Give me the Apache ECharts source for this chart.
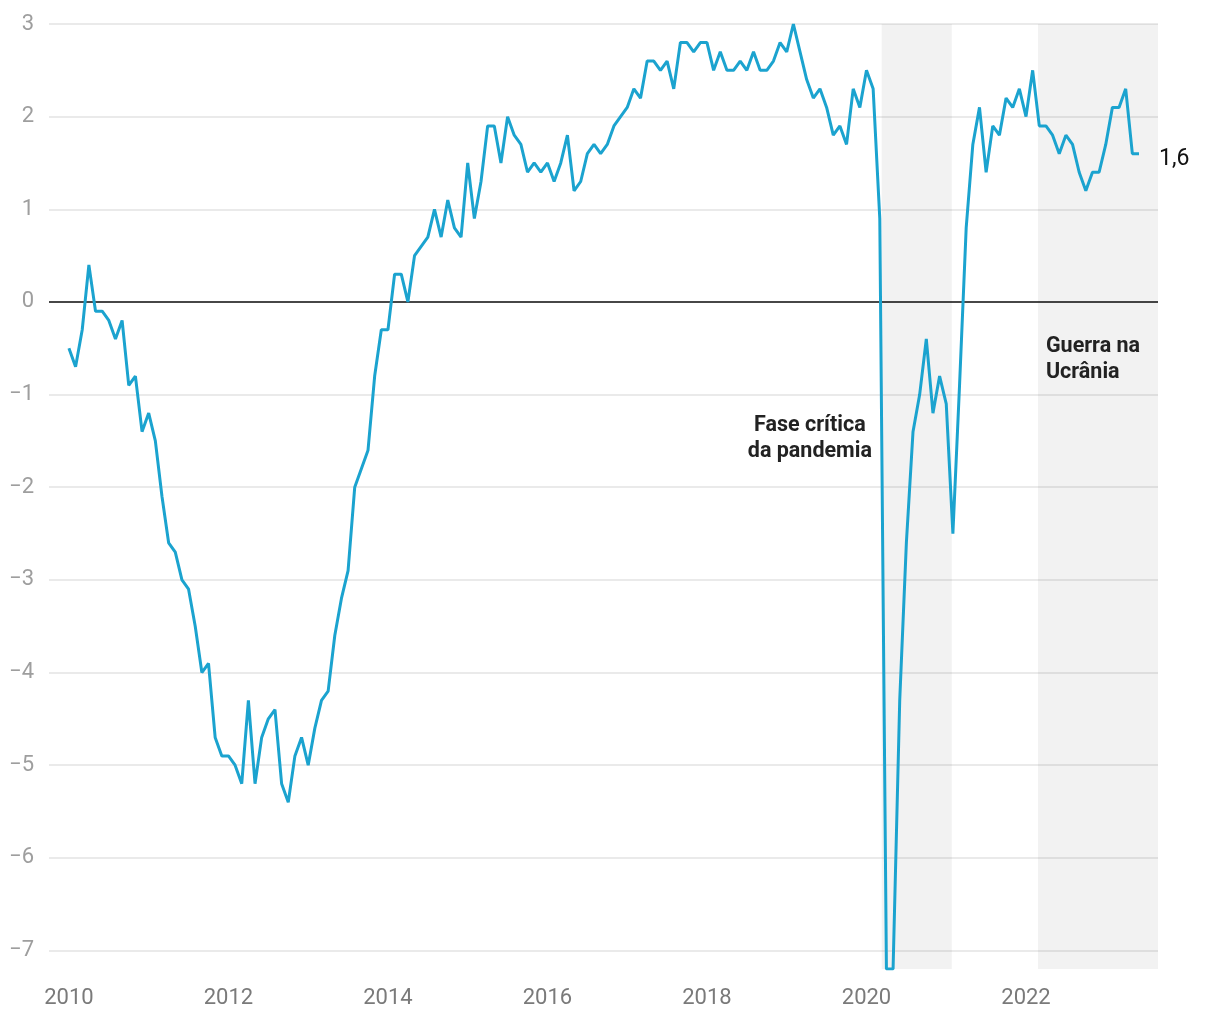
<!DOCTYPE html>
<html>
<head>
<meta charset="utf-8">
<script src="https://cdn.jsdelivr.net/npm/echarts@6/dist/echarts.min.js"></script>
<style>
html,body{margin:0;padding:0;background:#fff;}
#chart{width:1220px;height:1020px;}
</style>
</head>
<body>
<div id="chart"></div>
<script>
// Monthly values, Jan 2010 .. Jun 2023
const startYear = 2010;
const values2010 = [-0.5, -0.7, -0.3, 0.4, -0.1, -0.1, -0.2, -0.4, -0.2, -0.9, -0.8, -1.4];
const values2011 = [-1.2, -1.5, -2.1, -2.6, -2.7, -3.0, -3.1, -3.5, -4.0, -3.9, -4.7, -4.9];
const values2012 = [-4.9, -5.0, -5.2, -4.3, -5.2, -4.7, -4.5, -4.4, -5.2, -5.4, -4.9, -4.7];
const values2013 = [-5.0, -4.6, -4.3, -4.2, -3.6, -3.2, -2.9, -2.0, -1.8, -1.6, -0.8, -0.3];
const values2014 = [-0.3, 0.3, 0.3, 0.0, 0.5, 0.6, 0.7, 1.0, 0.7, 1.1, 0.8, 0.7];
const values2015 = [1.5, 0.9, 1.3, 1.9, 1.9, 1.5, 2.0, 1.8, 1.7, 1.4, 1.5, 1.4];
const values2016 = [1.5, 1.3, 1.5, 1.8, 1.2, 1.3, 1.6, 1.7, 1.6, 1.7, 1.9, 2.0];
const values2017 = [2.1, 2.3, 2.2, 2.6, 2.6, 2.5, 2.6, 2.3, 2.8, 2.8, 2.7, 2.8];
const values2018 = [2.8, 2.5, 2.7, 2.5, 2.5, 2.6, 2.5, 2.7, 2.5, 2.5, 2.6, 2.8];
const values2019 = [2.7, 3.0, 2.7, 2.4, 2.2, 2.3, 2.1, 1.8, 1.9, 1.7, 2.3, 2.1];
const values2020 = [2.5, 2.3, 0.9, -7.2, -7.2, -4.3, -2.6, -1.4, -1.0, -0.4, -1.2, -0.8];
const values2021 = [-1.1, -2.5, -0.9, 0.8, 1.7, 2.1, 1.4, 1.9, 1.8, 2.2, 2.1, 2.3];
const values2022 = [2.0, 2.5, 1.9, 1.9, 1.8, 1.6, 1.8, 1.7, 1.4, 1.2, 1.4, 1.4];
const values2023 = [1.7, 2.1, 2.1, 2.3, 1.6, 1.6];

const xTickYears = [2010, 2012, 2014, 2016, 2018, 2020, 2022];
const yTicks = [-7, -6, -5, -4, -3, -2, -1, 0, 1, 2, 3];

// shaded periods (decimal years)
const pandemicPeriod = [2020.19, 2021.07];
const warPeriod = [2022.15, 2023.655];
const pandemicLabel = 'Fase crítica\nda pandemia';
const warLabel = 'Guerra na\nUcrânia';

const allValues = [].concat(values2010, values2011, values2012, values2013, values2014,
  values2015, values2016, values2017, values2018, values2019, values2020, values2021,
  values2022, values2023);
const seriesData = allValues.map((v, i) => [startYear + i / 12, v]);

const FONT = 'Roboto, "Noto Sans", sans-serif';
const fmtNum = v => String(v).replace('-', '\u2212').replace('.', ',');

const chart = echarts.init(document.getElementById('chart'), null, {renderer: 'canvas'});
chart.setOption({
  animation: false,
  backgroundColor: '#fff',
  textStyle: {fontFamily: FONT},
  grid: {left: 49, right: 62, top: 24, bottom: 51, containLabel: false},
  xAxis: {
    type: 'value',
    min: 2009.75,
    max: 2023.655,
    axisLine: {show: false},
    axisTick: {show: false, customValues: xTickYears},
    splitLine: {show: false},
    axisLabel: {
      customValues: xTickYears,
      color: '#7a7a7a',
      fontSize: 22,
      fontFamily: FONT,
      margin: 18,
      formatter: v => String(v)
    }
  },
  yAxis: {
    type: 'value',
    min: -7.2,
    max: 3,
    axisLine: {show: false},
    axisTick: {show: false, customValues: yTicks},
    splitLine: {show: true, lineStyle: {color: '#e3e3e3', width: 1.5}},
    axisLabel: {
      customValues: yTicks,
      color: '#9e9e9e',
      fontSize: 22,
      fontFamily: FONT,
      margin: 15,
      padding: [3, 0, 0, 0],
      formatter: v => fmtNum(v)
    }
  },
  series: [{
    type: 'line',
    data: seriesData,
    showSymbol: false,
    symbol: 'none',
    lineStyle: {color: '#1ba3cf', width: 3},
    itemStyle: {color: '#1ba3cf'},
    z: 5,
    endLabel: {
      show: true,
      distance: 20,
      offset: [0, 6],
      color: '#111',
      fontSize: 23,
      fontFamily: FONT,
      formatter: p => fmtNum(p.value[1].toFixed(1))
    },
    markArea: {
      silent: true,
      itemStyle: {color: 'rgba(0,0,0,0.05)'},
      data: [
        [{xAxis: pandemicPeriod[0], yAxis: -7.2}, {xAxis: pandemicPeriod[1], yAxis: 3}],
        [{xAxis: warPeriod[0], yAxis: -7.2}, {xAxis: warPeriod[1], yAxis: 3}]
      ]
    },
    markLine: {
      silent: true,
      symbol: ['none', 'none'],
      label: {show: false},
      lineStyle: {color: '#111', width: 1.5, type: 'solid'},
      data: [{yAxis: 0}]
    },
    markPoint: {
      silent: true,
      symbol: 'circle',
      symbolSize: 0,
      data: [
        {coord: [2019.29, -1.48], label: {show: true, position: 'inside', formatter: pandemicLabel,
          align: 'center', fontWeight: 'bold', fontSize: 21.5, lineHeight: 26, color: '#222', fontFamily: FONT}},
        {coord: [2022.25, -0.62], label: {show: true, position: 'right', distance: 0, formatter: warLabel,
          align: 'left', fontWeight: 'bold', fontSize: 21.5, lineHeight: 26, color: '#222', fontFamily: FONT}}
      ]
    }
  }]
});
</script>
</body>
</html>
